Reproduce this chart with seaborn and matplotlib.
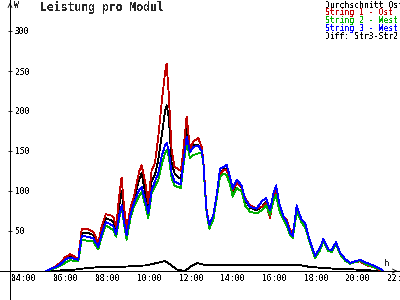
import numpy as np
import pandas as pd
import matplotlib
matplotlib.use("Agg")
import matplotlib.pyplot as plt
import matplotlib.transforms as mtransforms
import seaborn as sns

# ---------------- data (hours of day, W per module) ----------------
hours = [5.55, 5.8, 6.0, 6.2, 6.45, 6.7, 6.9, 7.08, 7.25, 7.5, 7.8, 8.04, 8.2, 8.4,
         8.6, 8.76, 8.9, 9.05, 9.16, 9.28, 9.4, 9.6, 9.75, 10.0, 10.12, 10.3, 10.44,
         10.6, 10.76, 10.92, 11.08, 11.24, 11.32, 11.42, 11.56, 11.7, 11.85, 12.0,
         12.12, 12.28, 12.44, 12.6, 12.84, 13.0, 13.08, 13.16, 13.24, 13.37, 13.56,
         13.72, 13.88, 14.04, 14.2, 14.36, 14.49, 14.68, 14.92, 15.08, 15.32, 15.64,
         15.88, 16.09, 16.28, 16.44, 16.57, 16.72, 16.92, 17.08, 17.24, 17.37, 17.56,
         17.68, 17.8, 17.96, 18.12, 18.28, 18.44, 18.68, 18.84, 19.08, 19.24, 19.44,
         19.64, 19.88, 20.12, 20.36, 20.6, 20.92, 21.24, 21.55, 21.7]

string1_ost = [0, 3, 6, 10, 17, 21, 18, 15, 53, 53, 49, 35, 55, 71,
               70, 68, 55, 95, 117, 80, 53, 80, 93, 124, 132, 110, 85,
               126, 135, 168, 210, 247, 259, 222, 151, 130, 128, 125,
               150, 193, 153, 162, 166, 155, 139, 105, 76, 55, 66,
               93, 120, 126, 126, 114, 101, 110, 105, 91, 82, 78,
               80, 85, 66, 93, 101, 76, 68, 64, 51, 47, 76,
               70, 62, 55, 43, 30, 18, 28, 39, 26, 25, 35,
               22, 14, 9, 11, 12, 7, 5, 1, 0]

durchschnitt = [0, 3, 5, 9, 15, 19, 16, 14, 47, 48, 45, 33, 50, 66,
                64, 62, 50, 82, 100, 70, 49, 76, 88, 114, 122, 97, 78,
                112, 120, 139, 168, 199, 207, 193, 135, 122, 118, 115,
                140, 178, 150, 157, 157, 152, 137, 103, 74, 55, 67,
                93, 122, 127, 128, 114, 100, 110, 104, 89, 79, 76,
                80, 86, 70, 94, 103, 80, 67, 61, 48, 44, 78,
                70, 63, 58, 43, 30, 18, 28, 39, 26, 25, 35,
                22, 14, 9, 12, 13, 8, 5, 1, 0]

string2_west = [0, 2, 4, 6, 10, 14, 12, 12, 39, 38, 37, 27, 42, 57,
                54, 51, 43, 66, 80, 58, 39, 68, 80, 93, 99, 82, 66,
                97, 105, 114, 132, 147, 151, 143, 116, 107, 105, 104,
                130, 162, 141, 145, 147, 148, 135, 100, 72, 53, 64,
                90, 118, 122, 120, 108, 93, 104, 99, 82, 74, 72,
                76, 82, 70, 88, 95, 76, 64, 57, 45, 41, 74,
                68, 60, 55, 41, 28, 16, 26, 37, 25, 24, 34,
                21, 13, 9, 11, 13, 8, 5, 2, 0]

string3_west = [0, 3, 5, 8, 14, 17, 15, 14, 44, 43, 41, 30, 46, 61,
                59, 56, 46, 70, 82, 62, 45, 72, 85, 101, 105, 87, 72,
                101, 112, 122, 143, 157, 160, 151, 122, 112, 110, 108,
                135, 168, 149, 155, 157, 150, 137, 103, 74, 58, 70,
                95, 128, 130, 133, 117, 103, 114, 107, 90, 80, 78,
                87, 91, 76, 97, 107, 85, 68, 62, 48, 44, 82,
                72, 64, 60, 44, 31, 19, 29, 40, 27, 26, 36,
                23, 15, 10, 12, 14, 10, 7, 3, 0]

diff_hours = [5.55, 6.0, 6.5, 7.0, 7.3, 8.1, 9.0, 9.7, 10.3, 10.86, 11.24, 11.5,
              11.8, 12.0, 12.2, 12.5, 12.78, 13.25, 14.2, 15.3, 16.9, 17.6, 18.2,
              19.3, 20.26, 21.55]
diff_str3_str2 = [0, 0.5, 1, 2, 3, 5, 5, 6, 7, 10, 12.5, 8,
                  2, 1, 0, 6, 10, 7, 8, 7, 7, 8, 5,
                  3, 2, 0]

series_names = ["Durchschnitt Ost/West", "String 1 - Ost", "String 2 - West", "String 3 - West"]
series_values = [durchschnitt, string1_ost, string2_west, string3_west]
series_colors = ["#000000", "#C00000", "#00B000", "#0000FF"]
x_ticks = [4, 6, 8, 10, 12, 14, 16, 18, 20, 22]
x_labels = ["04:00", "06:00", "08:00", "10:00", "12:00", "14:00", "16:00", "18:00", "20:00", "22:00"]
y_ticks = [50, 100, 150, 200, 250, 300]

# ---------------- figure ----------------
sns.set_style("white")
plt.rcParams["text.antialiased"] = False
plt.rcParams["font.family"] = ["DejaVu Sans Mono", "DejaVu Sans"]

fig = plt.figure(figsize=(4, 3), dpi=100)
ax = fig.add_axes([0, 0, 1, 1])

df = pd.concat([pd.DataFrame({"t": hours, "v": v, "s": n})
                for n, v in zip(series_names, series_values)], ignore_index=True)
ddf = pd.DataFrame({"t": diff_hours, "v": diff_str3_str2})

LW = 0.6
sns.lineplot(data=ddf, x="t", y="v", color="black", lw=LW, ax=ax,
             estimator=None, sort=False, antialiased=False)
sns.lineplot(data=df, x="t", y="v", hue="s", hue_order=series_names,
             palette=dict(zip(series_names, series_colors)), lw=LW, ax=ax,
             estimator=None, sort=False, legend=False, antialiased=False)

# pixel mapping: x px = 14 + (h-4)*20.85 ; y px = 271 - v*0.8
ppx_h = 20.85
x_axis_h = 4 + (10 - 14) / ppx_h
ax.set_xlim(4 - 14 / ppx_h, 4 + 386 / ppx_h)
ax.set_ylim((271 - 300) / 0.8, 271 / 0.8)
ax.set_xlabel("")
ax.set_ylabel("")
ax.patch.set_alpha(0)

for s in ["top", "left"]:
    ax.spines[s].set_visible(False)
ax.spines["bottom"].set_position(("data", 0))
ax.spines["right"].set_position(("data", x_axis_h))
for s in ["bottom", "right"]:
    ax.spines[s].set_color("black")
    ax.spines[s].set_linewidth(LW)
    ax.spines[s].set_antialiased(False)

ax.yaxis.tick_right()
ax.set_yticks(y_ticks)
ax.set_yticklabels([str(v) for v in y_ticks])
ax.tick_params(axis="y", direction="inout", length=3.2, width=LW, pad=2.0,
               labelsize=5.8, colors="black")
ax.set_xticks(x_ticks)
ax.set_xticklabels(x_labels)
ax.tick_params(axis="x", direction="inout", length=3.6, width=LW, pad=0.6,
               labelsize=5.8, colors="black")
offset = mtransforms.ScaledTranslation(-2 / 100, 0, fig.dpi_scale_trans)
for lbl in ax.get_xticklabels():
    lbl.set_horizontalalignment("left")
    lbl.set_transform(lbl.get_transform() + offset)

# axis arrows
ax.annotate("", xy=(400 / 400, 0), xycoords=("axes fraction", "data"),
            xytext=(392 / 400, 0), textcoords=("axes fraction", "data"),
            arrowprops=dict(arrowstyle="->", color="black", lw=LW, mutation_scale=7))
ax.annotate("", xy=(x_axis_h, 1.0), xycoords=("data", "axes fraction"),
            xytext=(x_axis_h, 1 - 8 / 300), textcoords=("data", "axes fraction"),
            arrowprops=dict(arrowstyle="->", color="black", lw=LW, mutation_scale=7))

ax.text(14 / 400, 1 - 5 / 300, "W", transform=ax.transAxes, fontsize=5.8,
        ha="left", va="center")
ax.text(384 / 400, 1 - 263 / 300, "h", transform=ax.transAxes, fontsize=6.5,
        ha="left", va="center")

ax.text(40 / 400, 1 - 7.5 / 300, "Leistung pro Modul", transform=ax.transAxes,
        fontsize=8.3, fontweight="bold", ha="left", va="center")

legend_y = [5, 12.8, 20.6, 28.4, 36.2]
legend_names = series_names + ["Diff: Str3-Str2"]
legend_colors = series_colors + ["#000000"]
for yy, name, col in zip(legend_y, legend_names, legend_colors):
    ax.text(325 / 400, 1 - yy / 300, name, transform=ax.transAxes, fontsize=5.8,
            color=col, ha="left", va="center")

fig.savefig("out.png", dpi=100, facecolor="white")
